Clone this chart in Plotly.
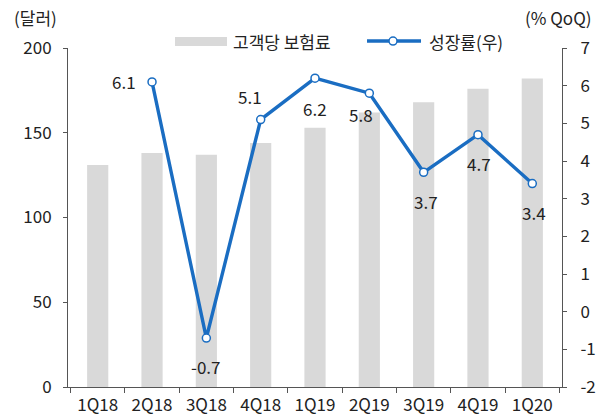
import plotly.graph_objects as go

categories = ["1Q18", "2Q18", "3Q18", "4Q18", "1Q19", "2Q19", "3Q19", "4Q19", "1Q20"]
premium = [131, 138, 137, 144, 153, 162, 168, 176, 182]
growth = [None, 6.1, -0.7, 5.1, 6.2, 5.8, 3.7, 4.7, 3.4]
growth_labels = ["", "6.1", "-0.7", "5.1", "6.2", "5.8", "3.7", "4.7", "3.4"]
right_tickvals = [-2, -1, 0, 1, 2, 3, 4, 5, 6, 7]
right_ticktext = ["-2", "-1", "0", "1", "2", "3", "4", "5", "6", "7"]
# label offsets in pixels (x, y) relative to each point
label_dx = [0, -28, 0, -11, 0, -8, 2, 1, 2]
label_dy = [0, 0, -28, 23, -30, -21, -29, -29, -29]

FONT = "Noto Sans CJK KR"
AX = "#555555"
BLUE = "#1a6dc2"
GRAY = "#d9d9d9"
TXT = "#222222"
FS = 17

fig = go.Figure()
fig.add_trace(go.Bar(
    x=categories, y=premium, name="고객당 보험료",
    marker=dict(color=GRAY, line=dict(width=0)),
    width=0.39, yaxis="y", showlegend=False,
))
fig.add_trace(go.Scatter(
    x=categories, y=growth, name="성장률(우)", yaxis="y2",
    mode="lines+markers",
    line=dict(color=BLUE, width=3.4),
    marker=dict(size=8, color="white", line=dict(color=BLUE, width=1.5)),
    cliponaxis=False, showlegend=False,
))

annotations = []
for c, g, t, dx, dy in zip(categories, growth, growth_labels, label_dx, label_dy):
    if g is None:
        continue
    annotations.append(dict(
        x=c, y=g, xref="x", yref="y2", text=t, showarrow=False,
        xshift=dx, yshift=dy, font=dict(size=FS, color=TXT),
    ))

# axis unit labels
annotations += [
    dict(text="(달러)", xref="paper", yref="paper", x=-0.1134, y=1.0885,
         xanchor="left", yanchor="middle", showarrow=False, font=dict(size=FS, color=TXT)),
    dict(text="(% QoQ)", xref="paper", yref="paper", x=1.0648, y=1.0885,
         xanchor="right", yanchor="middle", showarrow=False, font=dict(size=FS, color=TXT)),
    # legend texts
    dict(text="고객당 보험료", xref="paper", yref="paper", x=0.330, y=1.0206,
         xanchor="left", yanchor="middle", showarrow=False, font=dict(size=FS, color=TXT)),
    dict(text="성장률(우)", xref="paper", yref="paper", x=0.7267, y=1.0206,
         xanchor="left", yanchor="middle", showarrow=False, font=dict(size=FS, color=TXT)),
]

shapes = [
    dict(type="rect", xref="paper", yref="paper", x0=0.2166, x1=0.3219, y0=1.0059, y1=1.0324,
         fillcolor=GRAY, line=dict(width=0), layer="above"),
    dict(type="line", xref="paper", yref="paper", x0=0.6053, x1=0.7146, y0=1.0206, y1=1.0206,
         line=dict(color=BLUE, width=3.4), layer="above"),
    dict(type="circle", xref="paper", yref="paper",
         x0=0.6579 - 4 / 494, x1=0.6579 + 4 / 494, y0=1.0206 - 4 / 339, y1=1.0206 + 4 / 339,
         fillcolor="white", line=dict(color=BLUE, width=1.5), layer="above"),
]

fig.update_layout(
    width=604, height=419,
    margin=dict(l=68, r=42, t=48, b=32, autoexpand=False),
    paper_bgcolor="white", plot_bgcolor="white",
    font=dict(family=FONT, size=FS, color=TXT),
    showlegend=False,
    xaxis=dict(
        showline=True, linecolor=AX, linewidth=1, showgrid=False,
        tickson="boundaries", ticks="outside", ticklen=5, tickcolor=AX,
        tickfont=dict(size=FS), automargin=False, ticklabelstandoff=3,
    ),
    yaxis=dict(
        range=[0, 200], dtick=50, showline=True, linecolor=AX, linewidth=1,
        ticks="outside", ticklen=4, tickcolor=AX, showgrid=False, zeroline=False,
        tickfont=dict(size=FS), automargin=False, ticklabelstandoff=8,
    ),
    yaxis2=dict(
        range=[-2, 7], tickmode="array", tickvals=right_tickvals, ticktext=right_ticktext,
        overlaying="y", side="right", showline=True,
        linecolor=AX, linewidth=1, ticks="outside", ticklen=4, tickcolor=AX,
        showgrid=False, zeroline=False, tickfont=dict(size=FS), automargin=False,
        ticklabelstandoff=10,
    ),
    annotations=annotations,
    shapes=shapes,
)

fig.write_html(
    "out.html",
    config={"displayModeBar": False},
    post_script="document.body.style.margin='0';document.body.style.padding='0';",
)
